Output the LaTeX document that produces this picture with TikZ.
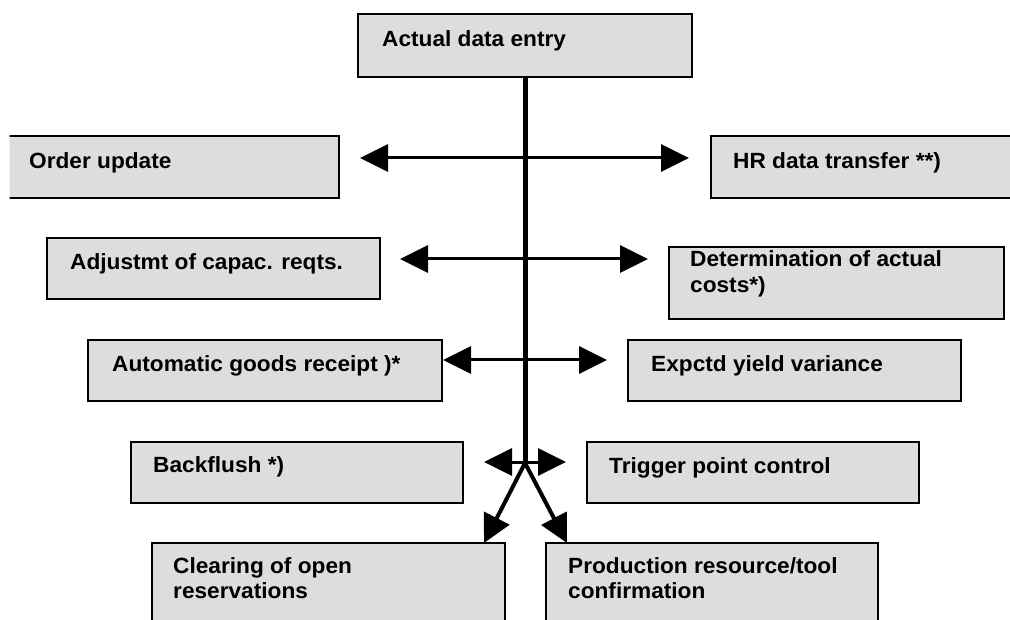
\documentclass[tikz,border=0pt]{standalone}
\usepackage{fontspec}
\setmainfont{Liberation Sans}
\usetikzlibrary{arrows.meta}
\definecolor{boxgray}{HTML}{DDDDDD}
\definecolor{edgecol}{HTML}{000000}
\begin{document}
\begin{tikzpicture}[x=1pt,y=-1pt,
  box/.style={draw=edgecol, line width=1.8pt, fill=boxgray, rectangle, inner sep=0pt, outer sep=0pt, anchor=north west},
  lbl/.style={anchor=base west, inner sep=0pt, font=\fontsize{22}{25.5}\selectfont\bfseries},
  tipstyle/.style={arrows={Triangle[length=28pt,width=27pt]-Triangle[length=28pt,width=27pt]}},
  con/.style={line width=3pt, draw=black, tipstyle},
  diag/.style={line width=4pt, draw=black, line cap=round, -{Triangle[length=28pt,width=28pt]}},
  trunk/.style={line width=5pt, draw=black}]
\useasboundingbox (0,0) rectangle (1010,620);
\clip (9.5,0) rectangle (1010,620);
% boxes
\node[box, minimum width=334pt, minimum height=63pt] (ad) at (358,14) {};
\node[box, minimum width=334pt, minimum height=62pt] (ou) at (5,136) {};
\node[box, minimum width=320pt, minimum height=62pt] (hr) at (711,136) {};
\node[box, minimum width=333pt, minimum height=61pt] (ac) at (47,238) {};
\node[box, minimum width=335pt, minimum height=72pt] (dc) at (669,247) {};
\node[box, minimum width=354pt, minimum height=61pt] (ag) at (88,340) {};
\node[box, minimum width=333pt, minimum height=61pt] (ey) at (628,340) {};
\node[box, minimum width=332pt, minimum height=61pt] (bf) at (131,442) {};
\node[box, minimum width=332pt, minimum height=61pt] (tp) at (587,442) {};
\node[box, minimum width=353pt, minimum height=100pt] (cr) at (152,543) {};
\node[box, minimum width=332pt, minimum height=100pt] (pr) at (546,543) {};
% labels
\node[lbl] (adt) at (382,47) {\scalebox{1.03}[1]{Actual data entry}};
\node[lbl] (out) at (29,169) {\scalebox{1.03}[1]{Order update}};
\node[lbl] (hrt) at (733,169) {\scalebox{1.03}[1]{HR data transfer **)}};
\node[lbl] (act) at (70,270) {\scalebox{1.03}[1]{Adjustmt of capac. reqts.}};
\node[lbl] (dct) at (690,267) {\scalebox{1.03}[1]{\begin{tabular}[t]{@{}l@{}}Determination of actual\\costs*)\end{tabular}}};
\node[lbl] (agt) at (112,372) {\scalebox{1.03}[1]{Automatic goods receipt )*}};
\node[lbl] (eyt) at (651,372) {\scalebox{1.03}[1]{Expctd yield variance}};
\node[lbl] (bft) at (153,472) {\scalebox{1.03}[1]{Backflush *)}};
\node[lbl] (tpt) at (609,473) {\scalebox{1.03}[1]{Trigger point control}};
\node[lbl] (crt) at (173,573) {\scalebox{1.03}[1]{\begin{tabular}[t]{@{}l@{}}Clearing of open\\reservations\end{tabular}}};
\node[lbl] (prt) at (568,573) {\scalebox{1.03}[1]{\begin{tabular}[t]{@{}l@{}}Production resource/tool\\confirmation\end{tabular}}};
% connectors
\coordinate (fork) at (525,463);
\draw[trunk] (ad.south) -- (fork);
\coordinate (r1l) at (360,158); \coordinate (r1r) at (689,158);
\coordinate (r2l) at (400,259); \coordinate (r2r) at (648,259);
\coordinate (r3l) at (443,360); \coordinate (r3r) at (607,360);
\coordinate (r4l) at (484,462); \coordinate (r4r) at (566,462);
\draw[con] (r1l) -- (r1r);
\draw[con] (r2l) -- (r2r);
\draw[con] (r3l) -- (r3r);
\draw[con] (r4l) -- (r4r);
\draw[diag] (fork) -- ([xshift=-21pt]cr.north east);
\draw[diag] (fork) -- ([xshift=21pt]pr.north west);
\end{tikzpicture}
\end{document}
